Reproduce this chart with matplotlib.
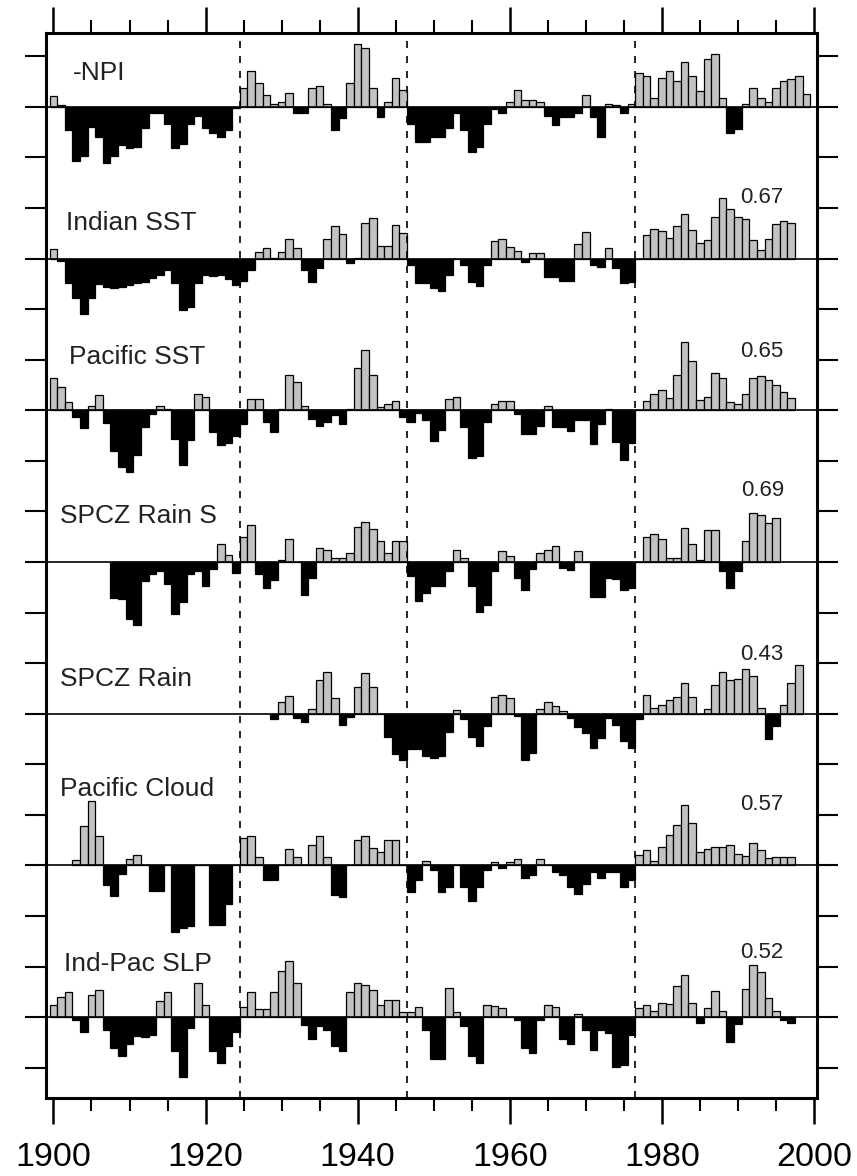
import numpy as np
import matplotlib
matplotlib.use("Agg")
import matplotlib.pyplot as plt

N = None
years = list(range(1900, 2000))

npi = [0.22, 0.04, -0.46, -1.07, -0.97, -0.39, -0.59, -1.12, -0.97, -0.76,
       -0.82, -0.79, -0.41, -0.13, -0.13, -0.33, -0.82, -0.74, -0.33, -0.18,
       -0.41, -0.51, -0.59, -0.45, -0.03, 0.38, 0.70, 0.47, 0.23, 0.05,
       0.10, 0.28, -0.12, -0.12, 0.38, 0.41, 0.05, -0.45, -0.23, 0.47,
       1.24, 1.17, 0.38, -0.21, 0.10, 0.57, 0.33, -0.33, -0.69, -0.69,
       -0.59, -0.59, -0.41, -0.13, -0.45, -0.89, -0.79, -0.33, -0.05, -0.12,
       0.10, 0.33, 0.14, 0.14, 0.10, -0.18, -0.36, -0.21, -0.21, -0.12,
       0.23, -0.21, -0.59, 0.05, 0.03, -0.12, 0.05, 0.67, 0.61, 0.18,
       0.57, 0.70, 0.51, 0.89, 0.61, 0.31, 0.94, 1.04, 0.18, -0.51,
       -0.44, 0.05, 0.38, 0.18, 0.09, 0.38, 0.51, 0.56, 0.61, 0.26]

indian_sst = [0.18, -0.05, -0.49, -0.78, -1.10, -0.78, -0.51, -0.56, -0.58, -0.56,
              -0.53, -0.49, -0.46, -0.38, -0.32, -0.23, -0.49, -1.02, -0.95, -0.49,
              -0.33, -0.35, -0.33, -0.40, -0.53, -0.45, -0.22, 0.13, 0.20, 0.02,
              0.13, 0.38, 0.20, -0.23, -0.46, -0.18, 0.38, 0.64, 0.48, -0.08,
              0.02, 0.71, 0.80, 0.24, 0.24, 0.66, 0.51, -0.13, -0.49, -0.49,
              -0.59, -0.64, -0.32, 0.00, -0.13, -0.46, -0.54, -0.13, 0.34, 0.38,
              0.23, 0.14, -0.07, 0.10, 0.10, -0.36, -0.36, -0.45, -0.45, 0.28,
              0.53, -0.13, -0.16, 0.20, -0.18, -0.49, -0.46, 0.00, 0.46, 0.59,
              0.55, 0.40, 0.64, 0.89, 0.56, 0.30, 0.37, 0.83, 1.20, 0.97,
              0.83, 0.78, 0.37, 0.17, 0.39, 0.68, 0.74, 0.70, N, N]

pacific_sst = [0.64, 0.45, 0.16, -0.14, -0.36, 0.08, 0.30, -0.26, -0.80, -1.12,
               -1.22, -0.89, -0.33, -0.07, 0.08, 0.03, -0.56, -1.09, -0.58, 0.32,
               0.27, -0.43, -0.69, -0.65, -0.50, -0.28, 0.22, 0.22, -0.23, -0.43,
               0.03, 0.69, 0.56, 0.08, -0.18, -0.32, -0.23, -0.10, -0.28, 0.03,
               0.84, 1.20, 0.69, 0.07, 0.13, 0.18, -0.13, -0.23, -0.05, -0.20,
               -0.61, -0.39, 0.22, 0.26, -0.33, -0.94, -0.91, -0.23, 0.13, 0.18,
               0.18, -0.07, -0.47, -0.47, -0.32, 0.08, -0.33, -0.33, -0.41, -0.20,
               -0.20, -0.66, -0.28, 0.03, -0.63, -0.99, -0.64, 0.00, 0.18, 0.32,
               0.41, 0.24, 0.69, 1.35, 0.97, 0.21, 0.26, 0.74, 0.64, 0.16,
               0.12, 0.32, 0.63, 0.68, 0.59, 0.49, 0.36, 0.25, N, N]

spcz_rain_s = [N, N, N, N, N, N, N, N, -0.72, -0.74,
               -1.12, -1.25, -0.38, -0.23, -0.18, -0.43, -1.03, -0.80, -0.24, -0.18,
               -0.47, -0.14, 0.36, 0.13, -0.21, 0.50, 0.74, -0.23, -0.51, -0.36,
               0.03, 0.46, 0.00, -0.65, -0.32, 0.27, 0.24, 0.07, 0.07, 0.18,
               0.69, 0.79, 0.66, 0.41, 0.18, 0.41, 0.41, -0.28, -0.78, -0.61,
               -0.47, -0.47, -0.18, 0.24, 0.07, -0.47, -0.98, -0.85, -0.18, 0.22,
               0.12, -0.32, -0.55, -0.14, 0.18, 0.24, 0.32, -0.11, -0.16, 0.22,
               0.00, -0.70, -0.70, -0.32, -0.34, -0.55, -0.52, 0.00, 0.49, 0.55,
               0.45, 0.07, 0.07, 0.68, 0.36, 0.03, 0.64, 0.64, -0.18, -0.52,
               -0.18, 0.41, 0.97, 0.93, 0.78, 0.87, N, N, N, N]

spcz_rain = [N, N, N, N, N, N, N, N, N, N,
             N, N, N, N, N, N, N, N, N, N,
             N, N, N, N, N, N, N, N, N, -0.11,
             0.23, 0.34, -0.09, -0.16, 0.10, 0.67, 0.82, 0.30, -0.22, -0.07,
             0.53, 0.81, 0.53, 0.00, -0.46, -0.79, -0.92, -0.69, -0.69, -0.84,
             -0.87, -0.84, -0.36, 0.07, -0.11, -0.46, -0.64, -0.24, 0.33, 0.37,
             0.30, -0.05, -0.92, -0.77, 0.10, 0.24, 0.15, 0.05, -0.09, -0.26,
             -0.39, -0.68, -0.49, -0.09, -0.22, -0.55, -0.68, -0.11, 0.37, 0.11,
             0.18, 0.27, 0.33, 0.60, 0.33, 0.00, 0.09, 0.56, 0.83, 0.66,
             0.69, 0.89, 0.74, 0.12, -0.51, -0.24, 0.18, 0.60, 0.97, N]

pacific_cloud = [N, N, N, 0.10, 0.78, 1.28, 0.58, -0.39, -0.61, -0.18,
                 0.12, 0.21, 0.00, -0.51, -0.51, 0.00, -1.32, -1.24, -1.20, 0.00,
                 0.00, -1.18, -1.18, -0.76, 0.00, 0.55, 0.58, 0.17, -0.29, -0.29,
                 0.00, 0.32, 0.17, 0.00, 0.40, 0.59, 0.17, -0.59, -0.62, 0.00,
                 0.50, 0.58, 0.35, 0.27, 0.50, 0.50, 0.00, -0.52, -0.28, 0.09,
                 -0.09, -0.52, -0.42, 0.00, -0.42, -0.70, -0.42, -0.09, 0.07, -0.05,
                 0.07, 0.13, -0.24, -0.19, 0.13, 0.00, -0.14, -0.19, -0.42, -0.57,
                 -0.36, -0.14, -0.24, -0.14, -0.14, -0.42, -0.29, 0.21, 0.31, 0.08,
                 0.36, 0.61, 0.79, 1.20, 0.84, 0.26, 0.32, 0.36, 0.36, 0.41,
                 0.23, 0.18, 0.45, 0.31, 0.14, 0.16, 0.16, 0.16, N, N]

indpac_slp = [0.24, 0.39, 0.49, -0.05, -0.30, 0.44, 0.54, -0.25, -0.62, -0.76,
              -0.53, -0.38, -0.39, -0.35, 0.31, 0.49, -0.68, -1.18, -0.22, 0.67,
              0.24, -0.68, -0.91, -0.58, -0.30, 0.20, 0.49, 0.16, 0.16, 0.49,
              0.92, 1.10, 0.68, -0.15, -0.43, -0.17, -0.25, -0.57, -0.68, 0.49,
              0.68, 0.64, 0.53, 0.24, 0.34, 0.34, 0.11, 0.11, 0.20, -0.25,
              -0.82, -0.83, 0.57, 0.11, -0.18, -0.76, -0.91, 0.24, 0.21, 0.18,
              0.00, -0.05, -0.61, -0.71, -0.05, 0.24, 0.20, -0.43, -0.53, 0.07,
              -0.25, -0.66, -0.25, -0.32, -0.99, -0.94, -0.35, 0.18, 0.23, 0.12,
              0.28, 0.25, 0.61, 0.84, 0.28, -0.11, 0.18, 0.51, 0.13, -0.49,
              -0.13, 0.56, 1.03, 0.89, 0.38, 0.13, -0.05, -0.11, N, N]

panel_names = ["-NPI", "Indian SST", "Pacific SST", "SPCZ Rain S",
               "SPCZ Rain", "Pacific Cloud", "Ind-Pac SLP"]
panel_series = [npi, indian_sst, pacific_sst, spcz_rain_s,
                spcz_rain, pacific_cloud, indpac_slp]
correlations = [None, "0.67", "0.65", "0.69", "0.43", "0.57", "0.52"]
regime_shifts = [1924.5, 1946.5, 1976.5]
xtick_major = [1900, 1920, 1940, 1960, 1980, 2000]

# layout (positions / styles)
label_pos = [(1902.5, 0.53), (1901.6, 0.56), (1902.0, 0.92), (1900.9, 0.78),
             (1900.9, 0.55), (1900.9, 1.38), (1901.4, 0.92)]
corr_dy = [None, 1.09, 1.05, 1.31, 1.07, 1.09, 1.16]
spacing = 3.0

W, H = 857, 1176
fig = plt.figure(figsize=(W / 100, H / 100), dpi=100)
ax = fig.add_axes([46 / W, 1 - 1098 / H, (817 - 46) / W, (1098 - 33) / H])

gray = "#c2c2c2"
for i, (name, vals) in enumerate(zip(panel_names, panel_series)):
    base = -spacing * i
    v = np.array([np.nan if x is None else x for x in vals], dtype=float)
    yr = np.array(years)
    ok = ~np.isnan(v)
    cols = np.where(v[ok] >= 0, gray, "black")
    ax.bar(yr[ok], v[ok], width=1.0, bottom=base, color=cols,
           edgecolor="black", linewidth=0.9, zorder=2)
    ax.axhline(base, color="black", lw=1.2, zorder=3)
    lx, ly = label_pos[i]
    ax.text(lx, base + ly, name, fontsize=19, family="Liberation Sans",
            color="#222222", ha="left", va="baseline", zorder=5)
    if correlations[i] is not None:
        ax.text(1993.2, base + corr_dy[i], correlations[i], fontsize=16,
                family="Liberation Sans", color="#222222", ha="center",
                va="baseline", zorder=5)

for xs in regime_shifts:
    ax.axvline(xs, color="black", lw=1.2, linestyle=(0, (4.2, 4.8)), zorder=4)

ax.set_xlim(1899.02, 2000.4)
ax.set_ylim(-19.6, 1.46)

ax.set_xticks(xtick_major)
ax.set_xticks(np.arange(1900, 2001, 5), minor=True)
ax.set_xticklabels([str(t) for t in xtick_major], fontsize=24.5,
                   family="Liberation Sans")
ax.set_yticks(np.arange(-19, 2, 1))
ax.set_yticklabels([])

ax.tick_params(axis="x", which="major", direction="out", length=19, width=1.8,
               top=True, bottom=True, pad=13)
ax.tick_params(axis="x", which="minor", direction="out", length=9.5, width=1.5,
               top=True, bottom=True)
ax.tick_params(axis="y", which="major", direction="out", length=15, width=1.5,
               left=True, right=True)
for s in ax.spines.values():
    s.set_linewidth(2.2)

fig.savefig("out.png", dpi=100)
